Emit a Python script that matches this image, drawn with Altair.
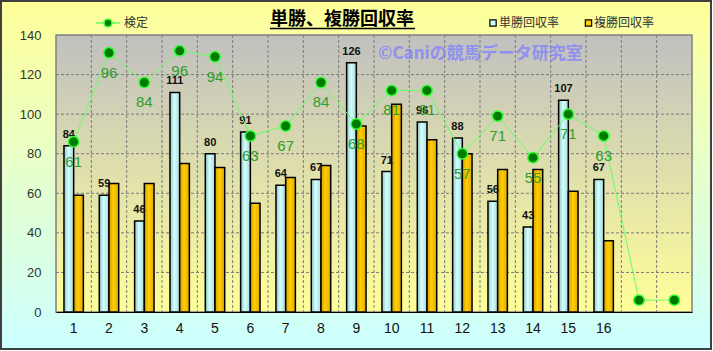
import altair as alt
import pandas as pd

# ---------------- data ----------------
categories = ["1", "2", "3", "4", "5", "6", "7", "8", "9", "10",
              "11", "12", "13", "14", "15", "16", " ", "  "]
tansho = [84, 59, 46, 111, 80, 91, 64, 67, 126, 71, 96, 88, 56, 43, 107, 67]
fukusho = [59, 65, 65, 75, 73, 55, 68, 74, 94, 105, 87, 80, 72, 72, 61, 36]
kentei = [86, 131, 116, 132, 129, 89, 94, 116, 95, 112, 112, 80, 99, 78, 100, 89, 6, 6]
kentei_labels = [61, 96, 84, 96, 94, 63, 67, 84, 68, 81, 91, 57, 71, 55, 71, 63]
y_ticks = [0, 20, 40, 60, 80, 100, 120, 140]
grid_y = [20, 40, 60, 80, 100, 120]
series_names = ["単勝回収率", "複勝回収率"]
title_text = "単勝、複勝回収率"
watermark_text = "©Caniの競馬データ研究室"
line_name = "検定"

W, H = 636, 277
JP = "Noto Sans CJK JP"
NUM = "Liberation Sans"

bars_df = pd.DataFrame({"cat": categories[:16], "tan": tansho, "fuku": fukusho})
line_df = pd.DataFrame({"cat": categories, "kentei": kentei})
lab_df = pd.DataFrame({"cat": categories[:16], "kentei": kentei[:16], "label": kentei_labels})
vgrid_df = pd.DataFrame({"cat": categories[1:]})
hgrid_df = pd.DataFrame({"y": grid_y})
one = pd.DataFrame({"a": [0]})

# ---------------- scales / axes ----------------
xscale = alt.Scale(domain=categories, paddingInner=0, paddingOuter=0)
xaxis = alt.Axis(title=None, labelAngle=0, ticks=False, domain=True, domainColor="#000000",
                 domainWidth=1, labelPadding=9, labelFontSize=14, labelFont=NUM,
                 labelColor="#111111", grid=False, zindex=1)
yscale = alt.Scale(domain=[0, 140], nice=False, zero=True)
yaxis = alt.Axis(title=None, values=y_ticks, ticks=False, domain=False, grid=False,
                 labelPadding=15, labelFontSize=13, labelFont=NUM, labelColor="#333333", zindex=1)


def X(**kw):
    return alt.X("cat:N", scale=xscale, axis=xaxis, **kw)


def Y(field):
    return alt.Y(f"{field}:Q", scale=yscale, axis=yaxis)


xo = alt.XOffset("series:N", scale=alt.Scale(domain=series_names, paddingInner=0, paddingOuter=0.82))


def vgrad(c0, c1):
    return {"gradient": "linear", "x1": 0, "y1": 0, "x2": 0, "y2": 1,
            "stops": [{"offset": 0, "color": c0}, {"offset": 1, "color": c1}]}


def hgrad(edge_l, mid, edge_r):
    return {"gradient": "linear", "x1": 0, "y1": 0, "x2": 1, "y2": 0,
            "stops": [{"offset": 0, "color": edge_l}, {"offset": 0.45, "color": mid},
                      {"offset": 1, "color": edge_r}]}


blue_fill = hgrad("#8CC4C4", "#D6FFFF", "#A6D8D8")
yellow_fill = hgrad("#D99A00", "#FFD000", "#E0A800")

# ---------------- decoration layers ----------------
outer_bg = alt.Chart(one).mark_rect(
    fill=vgrad("#FFFF99", "#CCFFFF"), stroke="#404040", strokeWidth=2
).encode(x=alt.value(-55), x2=alt.value(655), y=alt.value(-34), y2=alt.value(314))

plot_bg = alt.Chart(one).mark_rect(
    fill=vgrad("#C0C0C0", "#FFFF99"), stroke="#808080", strokeWidth=1.5
).encode(x=alt.value(0), x2=alt.value(W), y=alt.value(0), y2=alt.value(H))

hgrid = alt.Chart(hgrid_df).mark_rule(color="#7A7A7A", strokeDash=[3, 2], strokeWidth=1).encode(
    y=Y("y"), x=alt.value(0), x2=alt.value(W))

vgrid = alt.Chart(vgrid_df).mark_rule(color="#7A7A7A", strokeDash=[3, 2], strokeWidth=1).encode(
    x=X(bandPosition=0), y=alt.value(0), y2=alt.value(H))

# ---------------- data layers ----------------
blue_bars = alt.Chart(bars_df).transform_calculate(series=f"'{series_names[0]}'").mark_bar(
    fill=blue_fill, stroke="#000000", strokeWidth=1.5
).encode(x=X(), xOffset=xo, y=Y("tan"))

yellow_bars = alt.Chart(bars_df).transform_calculate(series=f"'{series_names[1]}'").mark_bar(
    fill=yellow_fill, stroke="#000000", strokeWidth=1.5
).encode(x=X(), xOffset=xo, y=Y("fuku"))

blue_labels = alt.Chart(bars_df).transform_calculate(series=f"'{series_names[0]}'").mark_text(
    font=NUM, fontSize=11, fontWeight="bold", color="#111111", dy=-8, baseline="alphabetic",
    align="center"
).encode(x=X(), xOffset=xo, y=Y("tan"), text="tan:Q")

line = alt.Chart(line_df).mark_line(color="#66FF66", strokeWidth=1).encode(x=X(), y=Y("kentei"))
points = alt.Chart(line_df).mark_point(
    filled=True, fill="#007A00", stroke="#33FF33", strokeWidth=1.5, size=110, opacity=1
).encode(x=X(), y=Y("kentei"))

green_labels = alt.Chart(lab_df).mark_text(
    font=NUM, fontSize=15, color="#2E9E2E", dy=20, baseline="middle", align="center"
).encode(x=X(), y=Y("kentei"), text="label:Q")

watermark = alt.Chart(one).mark_text(
    text=watermark_text, font=JP, fontSize=17, fontWeight="bold", color="#7F7FFF", opacity=0.75,
    align="left", baseline="middle"
).encode(x=alt.value(322), y=alt.value(19))

# ---------------- title & legends ----------------
title = alt.Chart(one).mark_text(
    text=title_text, font=JP, fontSize=18, fontWeight="bold", color="#000000",
    align="center", baseline="middle"
).encode(x=alt.value(286), y=alt.value(-15))
underline = alt.Chart(one).mark_rule(color="#000000", strokeWidth=1.5).encode(
    x=alt.value(214), x2=alt.value(359), y=alt.value(-6.5))

leg_line = alt.Chart(one).mark_rule(color="#66FF66", strokeWidth=1.5).encode(
    x=alt.value(40), x2=alt.value(64), y=alt.value(-12))
leg_dot = alt.Chart(one).mark_point(
    filled=True, fill="#007A00", stroke="#33FF33", strokeWidth=1.5, size=60, opacity=1
).encode(x=alt.value(52), y=alt.value(-12))
leg_line_text = alt.Chart(one).mark_text(
    text=line_name, font=JP, fontSize=12, color="#333333", align="left", baseline="middle"
).encode(x=alt.value(68), y=alt.value(-12))

leg_blue = alt.Chart(one).mark_square(
    size=40, fill="#CCFFFF", stroke="#000000", strokeWidth=1.2, opacity=1
).encode(x=alt.value(437), y=alt.value(-12))
leg_blue_text = alt.Chart(one).mark_text(
    text=series_names[0], font=JP, fontSize=12, color="#333333", align="left", baseline="middle"
).encode(x=alt.value(443), y=alt.value(-12))
leg_yellow = alt.Chart(one).mark_square(
    size=40, fill="#FFCC00", stroke="#000000", strokeWidth=1.2, opacity=1
).encode(x=alt.value(532.5), y=alt.value(-12))
leg_yellow_text = alt.Chart(one).mark_text(
    text=series_names[1], font=JP, fontSize=12, color="#333333", align="left", baseline="middle"
).encode(x=alt.value(538), y=alt.value(-12))

chart = alt.layer(
    outer_bg, plot_bg, hgrid, vgrid,
    blue_bars, yellow_bars, blue_labels,
    watermark,
    line, points, green_labels,
    title, underline, leg_line, leg_dot, leg_line_text,
    leg_blue, leg_blue_text, leg_yellow, leg_yellow_text,
).properties(
    width=W, height=H,
    autosize=alt.AutoSizeParams(type="none"),
    padding={"left": 56, "top": 35, "right": 21, "bottom": 39},
    background="#FFFFFF",
).configure_view(stroke=None)

chart.save("out.html", embed_options={"renderer": "svg", "actions": False})
